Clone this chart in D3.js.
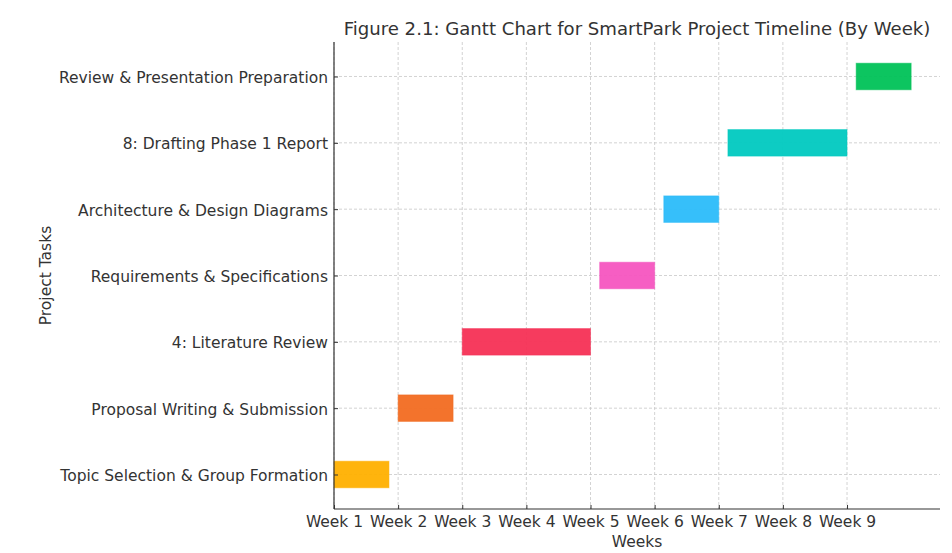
<!DOCTYPE html>
<html><head><meta charset="utf-8">
<script src="https://cdn.jsdelivr.net/npm/d3@7"></script>
<style>body{margin:0;background:#fff}svg{display:block}text{font-family:"DejaVu Sans",sans-serif;fill:#333}</style>
</head><body>
<svg id="c" width="952" height="553"></svg>
<script>
const tasks = ["Topic Selection & Group Formation","Proposal Writing & Submission","4: Literature Review","Requirements & Specifications","Architecture & Design Diagrams","8: Drafting Phase 1 Report","Review & Presentation Preparation"];
const startDays = [0,7,14,29,36,43,57];
const durations = [6,6,14,6,6,13,6];
const colors = ["#ffb000","#f26b21","#f53055","#f655c0","#2bbcfa","#00c9c0","#00c257"];
const tickDays = [0,7,14,21,28,35,42,49,56];
const tickLabels = ["Week 1","Week 2","Week 3","Week 4","Week 5","Week 6","Week 7","Week 8","Week 9"];

const svg = d3.select("#c");
const L=334, R=940, T=42, B=509;
const FS = 15.5;
const x = d3.scaleLinear().domain([0,66.15]).range([L,R]);
const n = tasks.length;
const y = d3.scaleLinear().domain([-0.52, n-1+0.52]).range([B,T]);

// grid
const g = svg.append("g");
g.selectAll("line.vx").data(tickDays).join("line")
  .attr("x1",d=>x(d)).attr("x2",d=>x(d)).attr("y1",T).attr("y2",B)
  .attr("stroke","#c8c8c8").attr("stroke-width",0.8).attr("stroke-dasharray","3,2");
g.selectAll("line.hy").data(tasks).join("line")
  .attr("x1",L).attr("x2",R).attr("y1",(d,i)=>y(i)).attr("y2",(d,i)=>y(i))
  .attr("stroke","#c8c8c8").attr("stroke-width",0.8).attr("stroke-dasharray","3,2");

// bars
svg.append("g").selectAll("rect").data(tasks).join("rect")
  .attr("x",(d,i)=>x(startDays[i]))
  .attr("width",(d,i)=>x(startDays[i]+durations[i])-x(startDays[i]))
  .attr("y",(d,i)=>y(i+0.2))
  .attr("height",(d,i)=>y(i-0.2)-y(i+0.2))
  .attr("fill",(d,i)=>colors[i]).attr("fill-opacity",0.95)
  .attr("stroke",(d,i)=>colors[i]).attr("stroke-opacity",0.5).attr("stroke-width",1);

// axes
const xAxis = d3.axisBottom(x).tickValues(tickDays).tickFormat((d,i)=>tickLabels[i]).tickSizeInner(-4).tickSizeOuter(0).tickPadding(7);
const gx = svg.append("g").attr("transform",`translate(0,${B})`).call(xAxis);
gx.select(".domain").attr("stroke","#333").attr("stroke-width",1.2).attr("d",`M${L},0H${R}`);
gx.selectAll(".tick line").attr("stroke","#333");
gx.selectAll(".tick text").attr("font-size",FS).attr("fill","#333").attr("font-family","DejaVu Sans");

const yAxis = d3.axisLeft(y).tickValues(d3.range(n)).tickFormat(i=>tasks[i]).tickSizeInner(-4).tickSizeOuter(0).tickPadding(6);
const gy = svg.append("g").attr("transform",`translate(${L},0)`).call(yAxis);
gy.select(".domain").attr("stroke","#333").attr("stroke-width",1.2).attr("d",`M0,${T}V${B}`);
gy.selectAll(".tick line").attr("stroke","#333");
gy.selectAll(".tick text").attr("font-size",FS).attr("fill","#333").attr("font-family","DejaVu Sans").attr("dy","0.38em");

svg.append("text").attr("x",(L+R)/2).attr("y",35).attr("text-anchor","middle").attr("font-size",18.1).text("Figure 2.1: Gantt Chart for SmartPark Project Timeline (By Week)");
svg.append("text").attr("x",(L+R)/2).attr("y",547).attr("text-anchor","middle").attr("font-size",FS).text("Weeks");
svg.append("text").attr("transform",`translate(51,${(T+B)/2}) rotate(-90)`).attr("text-anchor","middle").attr("font-size",FS).text("Project Tasks");
</script>
</body></html>
